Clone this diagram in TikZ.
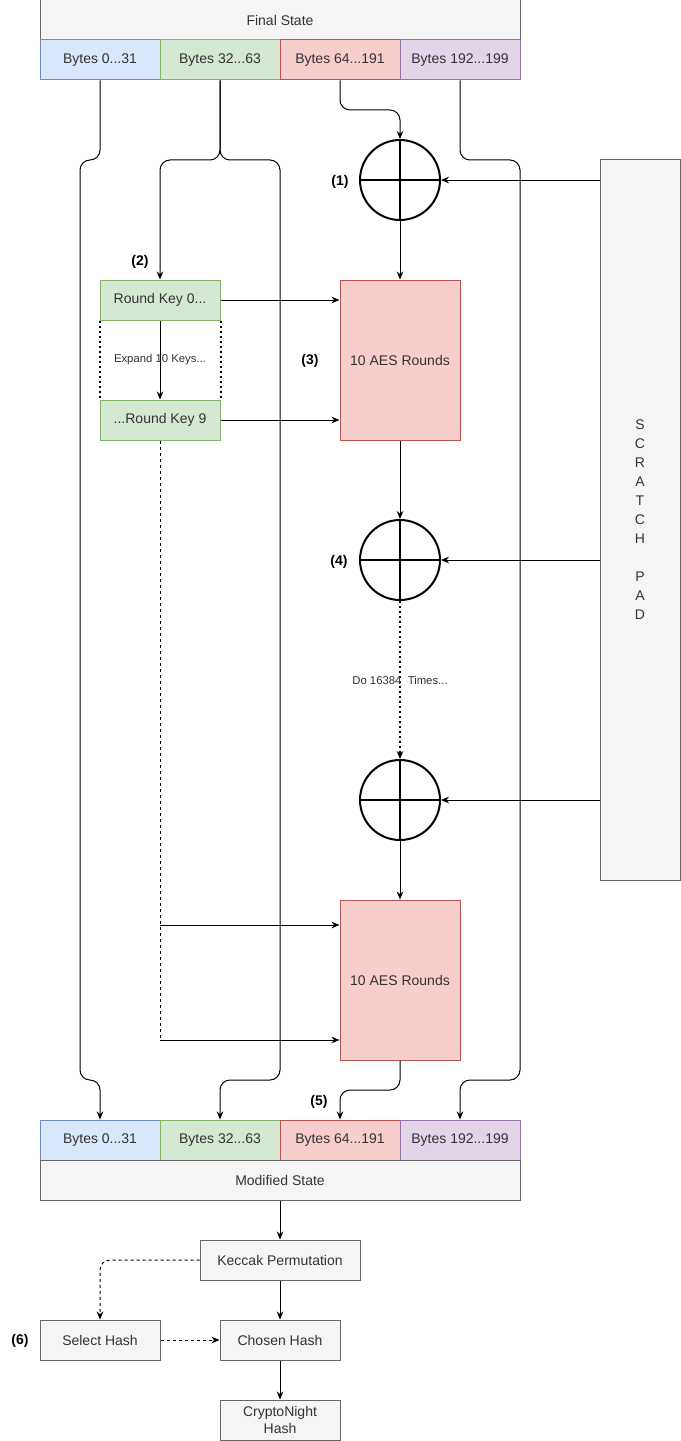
\documentclass[tikz,border=0pt]{standalone}
\usepackage{fontspec}
\setmainfont{Liberation Sans}
\usetikzlibrary{arrows.meta}
\definecolor{grayf}{HTML}{F5F5F5}
\definecolor{grayd}{HTML}{666666}
\definecolor{bluef}{HTML}{DAE8FC}
\definecolor{blued}{HTML}{6C8EBF}
\definecolor{greenf}{HTML}{D5E8D4}
\definecolor{greend}{HTML}{82B366}
\definecolor{redf}{HTML}{F8CECC}
\definecolor{redd}{HTML}{B85450}
\definecolor{purplef}{HTML}{E1D5E7}
\definecolor{purpled}{HTML}{9673A6}
\definecolor{txt}{HTML}{333333}
\begin{document}
\begin{tikzpicture}[x=0.75pt,y=-0.75pt,line width=0.75pt,
    box/.style={draw=grayd,fill=grayf,text=txt,inner sep=0pt,minimum width=90pt,minimum height=30pt,align=center,font=\fontsize{10.5}{12.75}\selectfont},
    bbox/.style={box,draw=blued,fill=bluef},
    gbox/.style={box,draw=greend,fill=greenf},
    rbox/.style={box,draw=redd,fill=redf},
    pbox/.style={box,draw=purpled,fill=purplef},
    xor/.style={circle,draw,line width=1.5pt,minimum size=60pt,inner sep=0pt},
    tag/.style={font=\fontsize{10.5}{12.5}\selectfont\bfseries},
    note/.style={font=\fontsize{8.5}{10}\selectfont,text=txt},
    arr/.style={-{Stealth[length=6pt,width=5pt]}},
    wire/.style={rounded corners=7.5pt},
    dotline/.style={line width=1.5pt,dash pattern=on 1.5pt off 2.25pt},
    dashline/.style={dash pattern=on 2.25pt off 2.25pt}]
	\useasboundingbox (0,0) rectangle (681,1441);

            % state on top
            \node[box,minimum width=360pt] (fin) at (280,20) {Final State};
            \node[bbox] (a1) at (100,60) {Bytes 0...31};
            \node[gbox] (a2) at (220,60) {Bytes 32...63};
            \node[rbox] (a3) at (340,60) {Bytes 64...191};
            \node[pbox] (a4) at (460,60) {Bytes 192...199};

            % state at the bottom
            \node[bbox] (b1) at (100,1140) {Bytes 0...31};
            \node[gbox] (b2) at (220,1140) {Bytes 32...63};
            \node[rbox] (b3) at (340,1140) {Bytes 64...191};
            \node[pbox] (b4) at (460,1140) {Bytes 192...199};
            \node[box,minimum width=360pt] (mod) at (280,1180) {Modified State};

            \node[gbox] (rk0) at (160,300) {Round Key 0...};
            \node[gbox] (rk9) at (160,420) {...Round Key 9};
            \node[rbox,minimum height=120pt] (aes1) at (400,360) {10 AES Rounds};
            \node[rbox,minimum height=120pt] (aes2) at (400,980) {10 AES Rounds};

            \node[xor] (x1) at (400,180) {};
            \node[xor] (x2) at (400,560) {};
            \node[xor] (x3) at (400,800) {};
            \node[box,minimum width=60pt,minimum height=540pt,font=\fontsize{10.5}{14.25}\selectfont] (pad) at (640,520) {S\\C\\R\\A\\T\\C\\H\\\mbox{}\\P\\A\\D};

            \foreach \c in {x1,x2,x3}{
              \draw[line width=1.5pt] (\c.north) -- (\c.south) (\c.west) -- (\c.east);
              \draw[arr] (\c -| pad.west) -- (\c.east);
            }

            \draw[wire,arr] (a1.south) -- (100,160) -- (80,160) -- (80,1080) -- (100,1080) -- (b1.north);
            \draw[wire,arr] (a2.south) -- (220,160) -- (160,160) -- (rk0.north);
            \draw[wire,arr] (a2.south) -- (220,160) -- (280,160) -- (280,1080) -- (220,1080) -- (b2.north);
            \draw[wire,arr] (a3.south) -- (340,110) -- (400,110) -- (x1.north);
            \draw[wire,arr] (a4.south) -- (460,160) -- (520,160) -- (520,1080) -- (460,1080) -- (b4.north);

            \draw[arr] (x1.south) -- (aes1.north);
            \draw[arr] (rk0.east) -- (rk0.east -| aes1.west);
            \draw[arr] (rk9.east) -- (rk9.east -| aes1.west);
            \draw[arr] (rk0.south) -- (rk9.north) node[midway,note] (exp) {Expand 10 Keys...};
            \draw[dotline] (rk0.south west) -- (rk9.north west) (rk0.south east) -- (rk9.north east);

            \draw[arr] (aes1.south) -- (x2.north);
            \draw[arr,dotline] (x2.south) -- (x3.north) node[midway,note] (rep) {Do 16384\ \ Times...};
            \draw[arr] (x3.south) -- (aes2.north);

            \coordinate (k1) at (160,925);
            \coordinate (k2) at (160,1040);
            \draw[dashline] (rk9.south) -- (k2);
            \draw[arr] (k1) -- (k1 -| aes2.west);
            \draw[arr] (k2) -- (k2 -| aes2.west);
            \draw[wire,arr] (aes2.south) -- (400,1090) -- (340,1090) -- (b3.north);

            % hashing
            \node[box,minimum width=120pt] (kec) at (280,1260) {Keccak Permutation};
            \node[box] (sel) at (100,1340) {Select Hash};
            \node[box] (cho) at (280,1340) {Chosen Hash};
            \node[box] (cn) at (280,1420) {CryptoNight\\Hash};
            \draw[arr] (mod.south) -- (kec.north);
            \draw[arr] (kec) -- (cho);
            \draw[arr] (cho) -- (cn);
            \draw[arr,dashline,wire] (kec.west) -| (sel.north);
            \draw[arr,dashline] (sel) -- (cho);

            \node[tag] (n1) at (340,182) {(1)};
            \node[tag] (n2) at (140,262) {(2)};
            \node[tag] (n3) at (310,361) {(3)};
            \node[tag] (n4) at (339,562) {(4)};
            \node[tag] (n5) at (319,1102) {(5)};
            \node[tag] (n6) at (20,1341) {(6)};
        \end{tikzpicture}
\end{document}
